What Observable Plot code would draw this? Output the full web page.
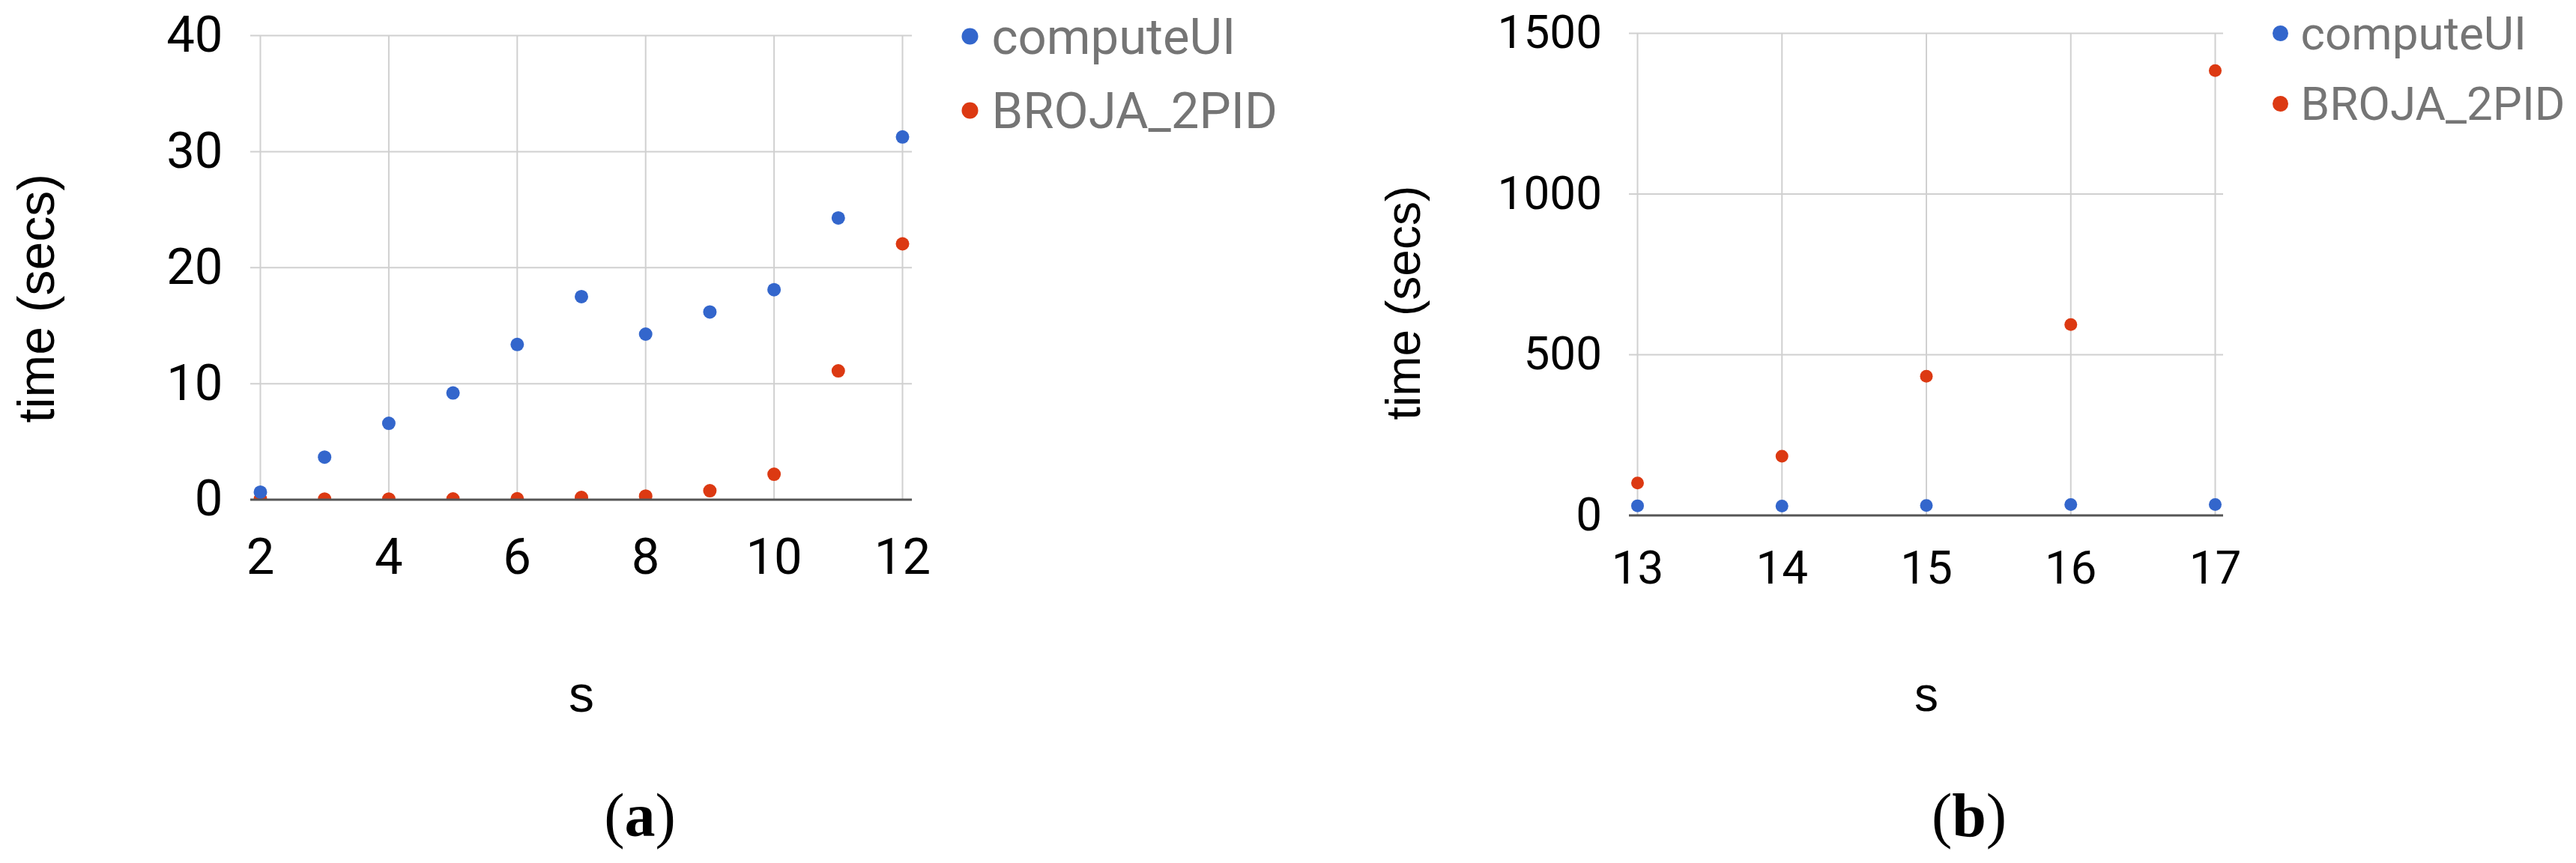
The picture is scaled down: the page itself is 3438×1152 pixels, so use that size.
<!DOCTYPE html>
<html>
<head>
<meta charset="utf-8">
<script src="https://cdn.jsdelivr.net/npm/d3@7"></script>
<script src="https://cdn.jsdelivr.net/npm/@observablehq/plot@0.6"></script>
<style>
html, body { margin: 0; padding: 0; background: #fff; }
#root { position: relative; width: 3438px; height: 1152px; overflow: hidden; background: #fff; }
.panel { position: absolute; top: 0; }
.caption { position: absolute; width: 200px; text-align: center; font-family: "Liberation Serif", serif; font-size: 82px; line-height: 82px; color: #000; }
</style>
</head>
<body>
<div id="root"></div>
<script>
// ---- data ----
const seriesNames = ["computeUI", "BROJA_2PID"];
const seriesColors = ["#3366cc", "#dc3912"];

const sLeft = [2, 3, 4, 5, 6, 7, 8, 9, 10, 11, 12];
const computeUILeft = [0.65, 3.67, 6.58, 9.2, 13.38, 17.5, 14.27, 16.18, 18.1, 24.28, 31.26];
const brojaLeft = [0.05, 0.05, 0.05, 0.06, 0.08, 0.19, 0.31, 0.77, 2.19, 11.1, 22.05];

const sRight = [13, 14, 15, 16, 17];
const computeUIRight = [30, 29, 31, 34, 34];
const brojaRight = [101, 184, 433, 594, 1384];

const xTicksLeft = [2, 4, 6, 8, 10, 12];
const yTicksLeft = [0, 10, 20, 30, 40];
const xTicksRight = [13, 14, 15, 16, 17];
const yTicksRight = [0, 500, 1000, 1500];

const yTitle = "time (secs)";
const xTitle = "s";
const captions = ["a", "b"];

const fmt = d => String(d);

function makePanel(o) {
  const rows = [];
  o.s.forEach((v, i) => rows.push({s: v, t: o.b[i], series: seriesNames[1]}));
  o.s.forEach((v, i) => rows.push({s: v, t: o.a[i], series: seriesNames[0]}));
  const legendMarks = seriesNames.flatMap((name, i) => [
    Plot.dot([name], {frameAnchor: "top-right", fill: d => d, r: o.legendR,
      dx: o.legDotDx, dy: o.legDotDy + i * o.legGap}),
    Plot.text([name], {frameAnchor: "top-right", textAnchor: "start", lineAnchor: "bottom",
      dx: o.legTextDx, dy: o.legTextDy + i * o.legGap, fill: "#757575",
      fontSize: o.legendSize, fontFamily: "Roboto"})
  ]);
  return Plot.plot({
    width: o.width, height: 1152,
    marginLeft: o.marginLeft, marginRight: o.marginRight,
    marginTop: o.marginTop, marginBottom: o.marginBottom,
    style: {fontFamily: "Roboto", fontSize: o.fontSize + "px", background: "transparent", overflow: "visible", color: "#000"},
    x: {domain: [o.s[0], o.s[o.s.length - 1]], insetLeft: o.inset, insetRight: o.inset},
    y: {domain: o.yDomain},
    color: {domain: seriesNames, range: seriesColors},
    marks: [
      Plot.ruleX(o.xTicks, {stroke: "#d0d0d0", strokeWidth: 2}),
      Plot.ruleY(o.yTicks.filter(d => d !== 0), {stroke: "#d0d0d0", strokeWidth: 2}),
      Plot.axisX({ticks: o.xTicks, tickFormat: fmt, tickSize: 0, tickPadding: o.tickPadX, fontSize: o.fontSize, label: null, fill: "#000"}),
      Plot.axisY({ticks: o.yTicks, tickFormat: fmt, tickSize: 0, tickPadding: o.tickPadY, fontSize: o.fontSize, label: null, fill: "#000"}),
      Plot.dot(rows, {x: "s", y: "t", fill: "series", r: o.r, clip: "frame"}),
      Plot.ruleY([0], {stroke: "#555", strokeWidth: 3}),
      Plot.text([yTitle], {frameAnchor: "left", rotate: -90, textAnchor: "middle", lineAnchor: "middle",
        dx: o.titleDx, dy: o.titleDy, fontSize: o.titleSize, fontFamily: "Liberation Sans", fill: "#000"}),
      Plot.text([xTitle], {frameAnchor: "bottom", textAnchor: "middle", lineAnchor: "bottom",
        dy: o.sDy, fontSize: o.titleSize, fontFamily: "Liberation Sans", fill: "#000"}),
      ...legendMarks
    ]
  });
}

const root = document.getElementById("root");

const left = makePanel({
  s: sLeft, a: computeUILeft, b: brojaLeft, xTicks: xTicksLeft, yTicks: yTicksLeft, yDomain: [0, 40],
  width: 1719, marginLeft: 334, marginRight: 1719 - 1217, marginTop: 47, marginBottom: 1152 - 666.5,
  inset: 13, fontSize: 67, titleSize: 68, r: 9, tickPadX: 51.5, tickPadY: 37,
  titleDx: -284, titleDy: 41, sDy: 282.5,
  legendR: 11, legendSize: 67, legDotDx: 77, legDotDy: 1, legTextDx: 106, legTextDy: 24, legGap: 99
});
left.classList.add("panel");
left.style.left = "0px";
root.appendChild(left);

const right = makePanel({
  s: sRight, a: computeUIRight, b: brojaRight, xTicks: xTicksRight, yTicks: yTicksRight, yDomain: [0, 1500],
  width: 1719, marginLeft: 2174 - 1719, marginRight: 1719 - (2967 - 1719), marginTop: 44, marginBottom: 1152 - 687.5,
  inset: 11, fontSize: 62, titleSize: 64, r: 8.5, tickPadX: 46.5, tickPadY: 36.5,
  titleDx: -300, titleDy: 38, sDy: 261,
  legendR: 10.5, legendSize: 62, legDotDx: 76, legDotDy: 0, legTextDx: 103, legTextDy: 21, legGap: 94
});
right.classList.add("panel");
right.style.left = "1719px";
root.appendChild(right);

const capX = [854, 2628];
captions.forEach((c, i) => {
  const d = document.createElement("div");
  d.className = "caption";
  d.style.left = (capX[i] - 100) + "px";
  d.style.top = "1048px";
  d.innerHTML = "(<b>" + c + "</b>)";
  root.appendChild(d);
});
</script>
</body>
</html>
